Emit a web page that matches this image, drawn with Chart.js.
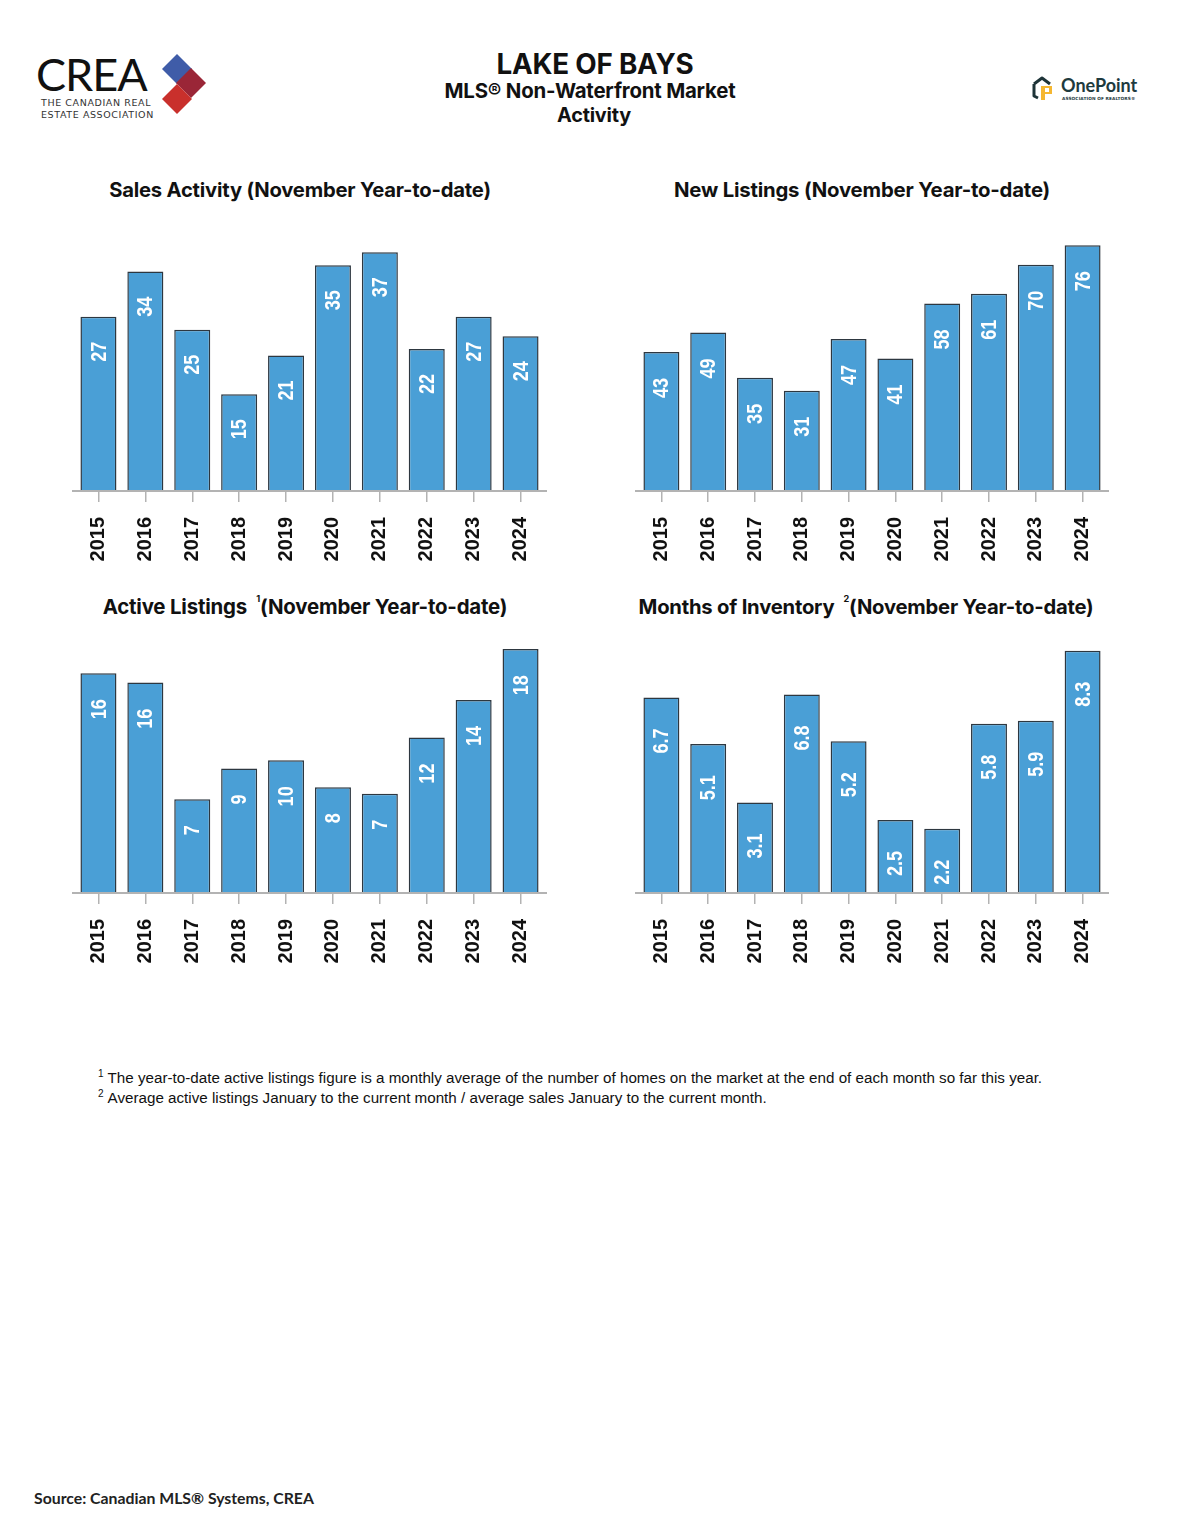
<!DOCTYPE html>
<html>
<head>
<meta charset="utf-8">
<script src="https://cdn.jsdelivr.net/npm/chart.js@4.4.1/dist/chart.umd.min.js"></script>
<style>
  body { margin: 0; background: #fff; width: 1183px; height: 1536px; position: relative; font-family: Inter, Lato, 'Liberation Sans', sans-serif; color: #111; }
  .t { position: absolute; white-space: nowrap; font-weight: 700; transform: translateX(-50%); letter-spacing: -0.2px; }
  .ct { font-size: 20px; line-height: 24px; }
  .ct sup { font-size: 0.45em; vertical-align: 1.3em; line-height: 0; }
  canvas { position: absolute; }
  .note { position: absolute; left: 98px; font-family: 'Liberation Sans', Arial, sans-serif; font-size: 15.2px; line-height: 20px; color: #111; white-space: nowrap; }
  .note sup { font-size: 10px; vertical-align: 6px; line-height: 0; margin-right: 4px; }
</style>
</head>
<body>

<!-- CREA logo -->
<div style="position:absolute;left:36px;top:50px;font-family:Lato,sans-serif;font-weight:400;font-size:45px;line-height:48px;letter-spacing:-1px;color:#111;">CREA</div>
<div style="position:absolute;left:41px;top:97px;font-family:'DejaVu Sans',sans-serif;font-size:9.5px;line-height:12px;letter-spacing:0.6px;color:#333;">THE CANADIAN REAL<br>ESTATE ASSOCIATION</div>
<svg style="position:absolute;left:0;top:0" width="230" height="130">
  <polygon points="177,54 192,69 177,84 162,69" fill="#3f5ca8"/>
  <polygon points="191,68 206,83 191,98 176,83" fill="#9a2637"/>
  <polygon points="177,84 192,99 177,114 162,99" fill="#c9302c"/>
</svg>

<!-- OnePoint logo -->
<svg style="position:absolute;left:1030px;top:74px" width="30" height="30">
  <path d="M4 10 L12 4 L20 10 M4 10 L4 22 L8 24" stroke="#1e3438" stroke-width="3" fill="none" stroke-linejoin="round"/>
  <path d="M11 12 L22 12 L22 20 L15 20 L15 26 L11 26 Z" fill="#f5b731"/>
  <rect x="15" y="14" width="4" height="4" fill="#fff"/>
</svg>
<div style="position:absolute;left:1061px;top:74px;font-family:Lato,sans-serif;font-weight:700;font-size:18px;line-height:22px;color:#1e3a3e;">OnePoint</div>
<div style="position:absolute;left:1062px;top:96px;font-family:'DejaVu Sans',sans-serif;font-weight:700;font-size:4.3px;line-height:6px;letter-spacing:0.1px;color:#1e3a3e;">ASSOCIATION OF REALTORS®</div>

<!-- header -->
<div class="t fit" data-w="197" style="left:595px;top:48px;font-size:26px;line-height:32px;">LAKE OF BAYS</div>
<div class="t fit" data-w="291" style="left:590px;top:79px;font-size:20px;line-height:24px;">MLS® Non-Waterfront Market</div>
<div class="t fit" data-w="74" style="left:594px;top:103px;font-size:20px;line-height:24px;">Activity</div>

<!-- chart titles -->
<div class="t ct fit" data-w="382" style="left:300px;top:178px;">Sales Activity (November Year-to-date)</div>
<div class="t ct fit" data-w="376" style="left:862px;top:178px;">New Listings (November Year-to-date)</div>
<div class="t ct fit" data-w="405" style="left:305px;top:595px;">Active Listings &nbsp;<sup>1</sup>(November Year-to-date)</div>
<div class="t ct fit" data-w="455" style="left:866px;top:595px;">Months of Inventory &nbsp;<sup>2</sup>(November Year-to-date)</div>

<canvas id="sales" width="475" height="360" style="left:72px;top:220px;"></canvas>
<canvas id="newlist" width="474" height="360" style="left:635px;top:220px;"></canvas>
<canvas id="active" width="475" height="357" style="left:72px;top:625px;"></canvas>
<canvas id="months" width="474" height="357" style="left:635px;top:625px;"></canvas>

<div class="note" style="top:1068px;"><sup>1</sup>The year-to-date active listings figure is a monthly average of the number of homes on the market at the end of each month so far this year.</div>
<div class="note" style="top:1088px;"><sup>2</sup>Average active listings January to the current month / average sales January to the current month.</div>

<div style="position:absolute;left:34px;top:1488px;font-family:Lato,sans-serif;font-weight:700;font-size:15.8px;line-height:20px;color:#222;">Source: Canadian MLS® Systems, CREA</div>

<script>
const years = ['2015', '2016', '2017', '2018', '2019', '2020', '2021', '2022', '2023', '2024'];
const salesActivity = [27, 34, 25, 15, 21, 35, 37, 22, 27, 24];
const newListings = [43, 49, 35, 31, 47, 41, 58, 61, 70, 76];
const activeListings = [16.4, 15.7, 7.0, 9.3, 9.9, 7.9, 7.4, 11.6, 14.4, 18.2];
const monthsOfInventory = [6.7, 5.1, 3.1, 6.8, 5.2, 2.5, 2.2, 5.8, 5.9, 8.3];

// size the heading texts to the widths they have in the original
document.querySelectorAll('.fit').forEach(el => {
  const size = parseFloat(getComputedStyle(el).fontSize);
  const w = el.getBoundingClientRect().width;
  el.style.fontSize = (size * el.dataset.w / w).toFixed(2) + 'px';
});

// white rotated value inside the top of each bar (condensed a little)
const barLabels = {
  id: 'barLabels',
  afterDatasetsDraw(chart, args, opts) {
    const ctx = chart.ctx;
    const values = chart.data.datasets[0].data;
    ctx.save();
    ctx.fillStyle = '#fff';
    ctx.font = "bold 22px 'Liberation Sans', Arial, sans-serif";
    ctx.textAlign = 'right';
    ctx.textBaseline = 'middle';
    chart.getDatasetMeta(0).data.forEach((bar, i) => {
      ctx.save();
      ctx.translate(bar.x + 1, bar.y + opts.offset);
      ctx.rotate(-Math.PI / 2);
      ctx.scale(0.82, 1);
      ctx.fillText(values[i].toFixed(opts.decimals), 0, 0);
      ctx.restore();
    });
    ctx.restore();
  }
};

// axis line runs a bit past the outer bars
const baseLine = {
  id: 'baseLine',
  afterDraw(chart) {
    const ctx = chart.ctx;
    ctx.save();
    ctx.strokeStyle = '#b3b3b3';
    ctx.lineWidth = 2;
    ctx.beginPath();
    ctx.moveTo(0, chart.chartArea.bottom);
    ctx.lineTo(chart.width, chart.chartArea.bottom);
    ctx.stroke();
    ctx.restore();
  }
};

function makeChart(id, values, yMax, offset, decimals) {
  return new Chart(document.getElementById(id), {
    type: 'bar',
    data: {
      labels: years,
      datasets: [{
        data: values,
        backgroundColor: '#4a9fd6',
        borderColor: '#2d3740',
        borderWidth: 1.5,
        barPercentage: 0.768,
        categoryPercentage: 1
      }]
    },
    options: {
      responsive: false,
      animation: false,
      layout: { padding: { left: 3, right: 3, top: 0, bottom: 0 } },
      plugins: {
        legend: { display: false },
        tooltip: { enabled: false },
        barLabels: { offset: offset, decimals: decimals }
      },
      scales: {
        x: {
          border: { display: false },
          grid: { offset: false, drawOnChartArea: false, drawTicks: true, tickLength: 11, color: '#b3b3b3', lineWidth: 1.5 },
          ticks: {
            color: '#111',
            font: { family: "'Liberation Sans', Arial, sans-serif", size: 20, weight: 'bold' },
            minRotation: 90,
            maxRotation: 90,
            padding: 15,
            autoSkip: false
          },
          afterFit(scale) {
            scale.height = 89;
            scale.paddingLeft = 0;
            scale.paddingRight = 0;
          }
        },
        y: { display: false, min: 0, max: yMax }
      }
    },
    plugins: [barLabels, baseLine]
  });
}

makeChart('sales', salesActivity, 42.0, 25, 0);
makeChart('newlist', newListings, 83.8, 26, 0);
makeChart('active', activeListings, 20.0, 26, 0);
makeChart('months', monthsOfInventory, 9.18, 31, 1);
</script>
</body>
</html>
